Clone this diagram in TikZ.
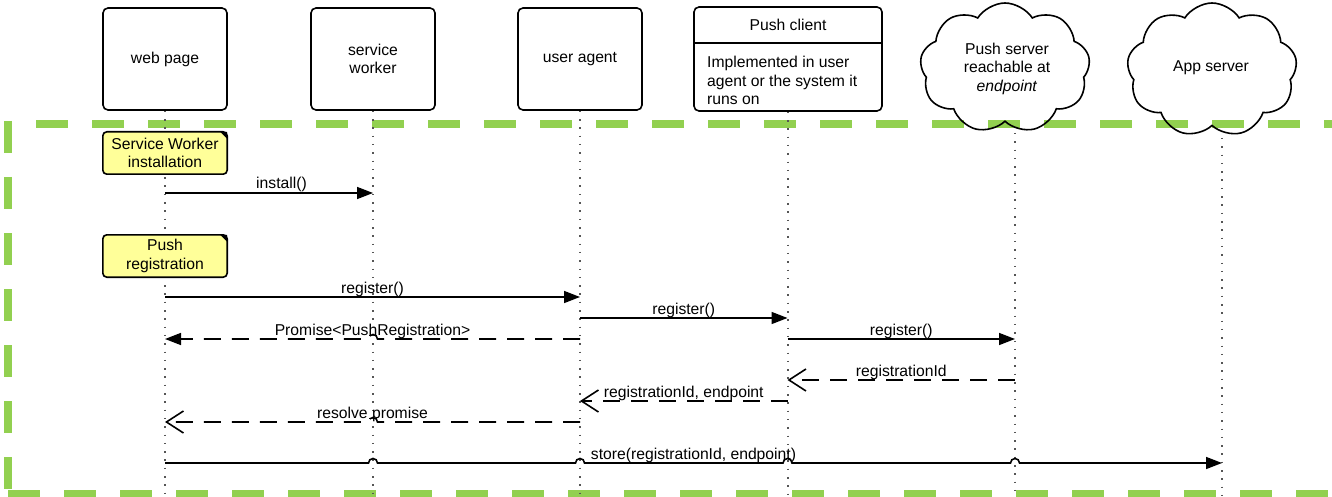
\documentclass[tikz,border=0pt]{standalone}
\usepackage{fontspec}
\setmainfont{Liberation Sans}
\usetikzlibrary{arrows.meta,shapes.symbols,calc}
\pgfdeclarelayer{lanes}
\pgfdeclarelayer{paper}
\pgfsetlayers{lanes,paper,main}

\definecolor{framegreen}{HTML}{92D050}
\definecolor{notefill}{HTML}{FFFF99}
\definecolor{lanegray}{HTML}{555555}

\tikzset{
  actor/.style={draw, line width=1.6pt, rounded corners=5pt, minimum width=124pt,
    minimum height=102pt, align=center, inner sep=0pt},
  cloudbox/.style={cloud, draw, line width=1.6pt, cloud puffs=9, cloud puff arc=115,
    aspect=1.3, minimum width=170pt, minimum height=130pt, inner sep=0pt},
  frame/.style={draw=framegreen, line width=8pt, dash pattern=on 32pt off 24pt},
  lane/.style={draw=lanegray, line width=1.5pt, dash pattern=on 1.5pt off 6.8pt},
  notetext/.style={minimum width=124pt, minimum height=42pt, align=center, inner sep=0pt},
  notebox/.style={draw, fill=notefill, line width=1.6pt, rounded corners=4pt},
  msg/.style={line width=1.6pt},
  call/.style={msg, -{Triangle[length=16pt,width=12pt]}},
  back/.style={msg, dash pattern=on 17pt off 11pt},
  barb/.style={-{Straight Barb[length=17pt,width=22pt]}},
  lbl/.style={anchor=base, yshift=4pt, inner sep=0pt},
  hopr/.style={insert path={-- ($(#1)+(-4.5,0)$) arc[start angle=180,end angle=0,radius=4.5pt]}},
  hopl/.style={insert path={-- ($(#1)+(4.5,0)$) arc[start angle=0,end angle=180,radius=4.5pt]}},
}

\begin{document}
\begin{tikzpicture}[x=1pt,y=-1pt,font=\fontsize{15.7}{18.5}\selectfont]
\useasboundingbox (0,0) rectangle (1332,497);

% participants
\node[actor] (web) at (165,59) {web page};
\node[actor] (sw) at (373,59) {service\\worker};
\node[actor] (ua) at (580,59) {user agent};
\node[actor, minimum width=188pt, minimum height=104pt] (pc) at (788,59) {};
\draw[line width=1.6pt] (pc.west |- 0,43) -- (pc.east |- 0,43);
\node (pctitle) at (788,25) {Push client};
\node[anchor=north west, align=left, inner sep=0pt] (pcbody) at (707,56)
  {Implemented in user\\agent or the system it\\runs on};

\node[cloudbox] (ps) at (1005,68) {};
\node[align=center, inner sep=0pt] (pstext) at (1007,68.5) {Push server\\reachable at\\\textit{endpoint}};
\node[cloudbox, minimum height=134pt] (as) at (1212,70) {};
\node[inner sep=0pt] (astext) at (1211,68) {App server};
\coordinate (psfoot) at (1015,133);
\coordinate (asfoot) at (1222,138);

% dashed green frame and lifelines
\begin{pgfonlayer}{lanes}
  \draw[frame] (36,124) -- (1340,124);
  \draw[frame] (8,494) -- (1340,494);
  \draw[frame] (8,121) -- (8,497);
  \draw[lane] (web.south) -- (web.south |- 0,497);
  \draw[lane] (sw.south) -- (sw.south |- 0,497);
  \draw[lane] (ua.south) -- (ua.south |- 0,497);
  \draw[lane] (pc.south) -- (pc.south |- 0,497);
  \draw[lane] (psfoot) -- (psfoot |- 0,497);
  \draw[lane] (asfoot) -- (asfoot |- 0,497);
\end{pgfonlayer}

% message end points on the lifelines
\foreach \n/\x in {w/165,s/373,u/580,c/787.5,p/1015,a/1222}{
  \foreach \r/\y in {1/193,2/297,3/318,4/339,5/380,6/401,7/422,8/463}{
    \coordinate (\n\r) at (\x,\y);
  }
}

% notes
\node[notetext] (n1) at (165,153) {Service Worker\\installation};
\node[notetext] (n2) at (165,256) {Push\\registration};
\begin{pgfonlayer}{paper}
  \foreach \m in {n1,n2}{
    \draw[notebox] (\m.north west) -- (\m.north east) -- (\m.south east)
      -- (\m.south west) -- cycle;
    \fill ([xshift=-7pt]\m.north east) -- (\m.north east) -- ([yshift=-7pt]\m.north east) -- cycle;
  }
\end{pgfonlayer}

% messages
\draw[call] (w1) -- node[lbl, pos=0.56] {install()} (s1);
\draw[call] (w2) -- node[lbl] {register()} (u2);
\draw[call] (u3) -- node[lbl] {register()} (c3);
\draw[back, -{Triangle[length=16pt,width=12pt]}] (u4) [hopl=s4] -- (w4);
\node[lbl] (l4) at ($(w4)!0.5!(u4)$) {Promise<PushRegistration>};
\draw[call] (c4) -- node[lbl] {register()} (p4);
\draw[back, barb] (p5) -- node[lbl] {registrationId} (c5);
\draw[back, barb] (c6) -- node[lbl] {registrationId, endpoint} (u6);
\draw[back, barb] (u7) [hopl=s7] -- (w7);
\node[lbl] (l7) at ($(w7)!0.5!(u7)$) {resolve promise};
\draw[call] (w8) [hopr=s8] [hopr=u8] [hopr=c8] [hopr=p8] -- (a8);
\node[lbl] (l8) at ($(w8)!0.5!(a8)$) {store(registrationId, endpoint)};
\end{tikzpicture}
\end{document}
